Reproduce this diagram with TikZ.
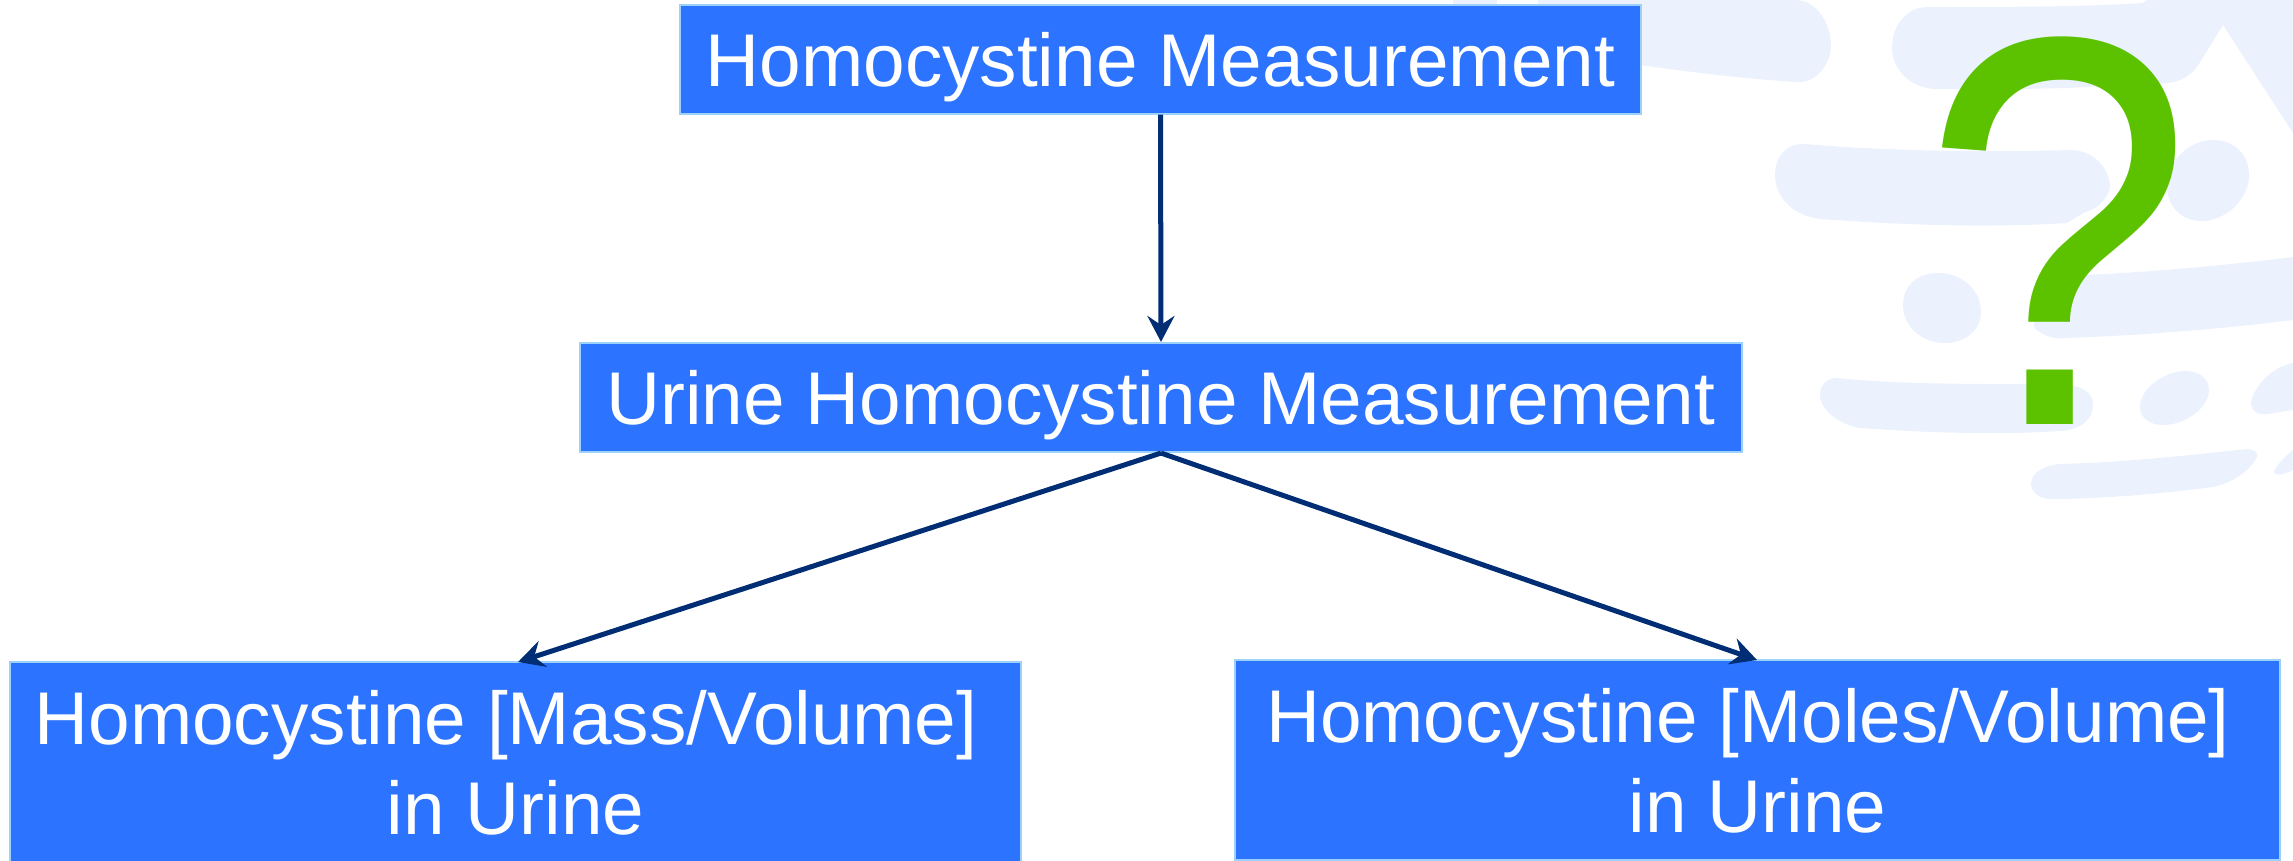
\documentclass[tikz,border=0pt]{standalone}
\usepackage{fontspec}
\setmainfont{Liberation Sans}
\usetikzlibrary{arrows.meta}
\definecolor{boxblue}{HTML}{2C73FF}
\definecolor{boxline}{HTML}{9CD2FA}
\definecolor{arrowblue}{HTML}{002D73}
\definecolor{blobblue}{HTML}{EBF2FE}
\definecolor{markgreen}{HTML}{5CC200}
\tikzset{
    box/.style={rectangle,draw=boxline,line width=0.02cm,fill=boxblue,text=white,inner sep=0pt,align=center,text depth=0pt,font=\fontsize{21.25}{25.6}\selectfont},
    link/.style={-{Stealth[length=0.26cm,width=0.27cm,inset=0.09cm]},draw=arrowblue,line width=0.05cm},
    blob/.style={fill=blobblue,draw=none},
}
\begin{document}
\begin{tikzpicture}[x=0.01cm,y=-0.01cm]
    \useasboundingbox (0,0) rectangle (2293,860);
    \clip (0,0) rectangle (2293,860);
    % background
    \fill[blob] (1453,0) rectangle (1497,6);
    \fill[blob] (1538,0) -- (1798,0) .. controls (1818,2) and (1831,25) .. (1831,45) .. controls (1831,65) and (1815,83) .. (1798,82) .. controls (1745,79) and (1690,72) .. (1640,65) -- (1538,50) -- cycle;
    \fill[blob] (2147,0) -- (2293,0) -- (2293,133) -- (2223,25) -- (2197,67) .. controls (2188,78) and (2178,82) .. (2167,83) .. controls (2100,88) and (2010,90) .. (1933,89) .. controls (1905,86) and (1892,65) .. (1892,48) .. controls (1892,25) and (1907,7) .. (1927,7) .. controls (2000,7) and (2080,7) .. (2143,3) -- cycle;
    \fill[blob] (1805,144) .. controls (1900,152) and (2000,152) .. (2070,150) .. controls (2095,150) and (2110,170) .. (2110,187) .. controls (2108,200) and (2095,210) .. (2085,212) -- (2067,223) .. controls (1990,228) and (1900,225) .. (1820,219) .. controls (1790,215) and (1775,195) .. (1775,175) .. controls (1775,158) and (1785,143) .. (1805,144) -- cycle;
    \fill[blob] (2213,140) .. controls (2235,140) and (2249,155) .. (2249,175) .. controls (2249,200) and (2225,221) .. (2202,221) .. controls (2180,221) and (2167,205) .. (2167,187) .. controls (2167,160) and (2190,140) .. (2213,140) -- cycle;
    \fill[blob] (2293,257) .. controls (2220,266) and (2150,272) .. (2085,275) -- (2040,310) .. controls (2030,320) and (2033,330) .. (2040,332) .. controls (2048,338) and (2058,339) .. (2067,338) .. controls (2150,335) and (2230,328) .. (2293,320) -- cycle;
    \fill[blob] (1938,273) .. controls (1962,273) and (1981,290) .. (1981,312) .. controls (1981,330) and (1965,343) .. (1945,343) .. controls (1920,343) and (1903,325) .. (1903,305) .. controls (1903,285) and (1918,273) .. (1938,273) -- cycle;
    \fill[blob] (1837,378) .. controls (1900,385) and (2000,384) .. (2060,384) .. controls (2083,385) and (2093,393) .. (2093,405) .. controls (2093,420) and (2080,430) .. (2060,431) .. controls (2000,435) and (1930,433) .. (1860,428) .. controls (1840,425) and (1820,410) .. (1820,395) .. controls (1820,385) and (1827,378) .. (1837,378) -- cycle;
    \fill[blob] (2185,371) .. controls (2201,371) and (2209,380) .. (2209,390) .. controls (2209,408) and (2185,425) .. (2163,425) .. controls (2150,425) and (2140,418) .. (2140,407) .. controls (2140,388) and (2165,371) .. (2185,371) -- cycle;
    \fill[blob] (2293,363) .. controls (2272,367) and (2255,385) .. (2251,402) .. controls (2251,412) and (2258,415) .. (2268,414) -- (2293,410) -- cycle;
    \fill[blob] (2060,464) .. controls (2130,462) and (2190,455) .. (2247,449) .. controls (2255,449) and (2258,453) .. (2257,457) .. controls (2250,470) and (2235,482) .. (2213,487) .. controls (2160,494) and (2100,499) .. (2050,499) .. controls (2038,498) and (2031,492) .. (2031,483) .. controls (2032,472) and (2045,465) .. (2060,464) -- cycle;
    \fill[blob] (2293,450) .. controls (2283,458) and (2275,467) .. (2274,472) .. controls (2276,477) and (2285,474) .. (2293,470) -- cycle;
    % boxes
    \node[box,minimum width=9.61cm,minimum height=1.08cm] (top) at (1160.5,59.5) {Homocystine Measurement};
    \node[box,minimum width=11.62cm,minimum height=1.09cm] (urine) at (1161,397.5) {Urine Homocystine Measurement};
    \node[box,minimum width=10.11cm,minimum height=2cm] (mass) at (515.5,762) {Homocystine [Mass/Volume]\hspace*{0.19cm}\\in Urine};
    \node[box,minimum width=10.45cm,minimum height=2cm] (moles) at (1757.5,760) {Homocystine [Moles/Volume]\hspace*{0.19cm}\\in Urine};
    \coordinate (masstip) at (518,662);
    \coordinate (molestip) at (1757,660);
    % links
    \draw[link] (top.south) -- (urine.north);
    \draw[link] (urine.south) -- (masstip);
    \draw[link] (urine.south) -- (molestip);
    % mark
    \node[text=markgreen,inner sep=0pt,font=\fontsize{150.8}{150.8}\selectfont] (mark) at (2058,230.5) {\scalebox{0.92}[1.047]{?}};
\end{tikzpicture}
\end{document}
